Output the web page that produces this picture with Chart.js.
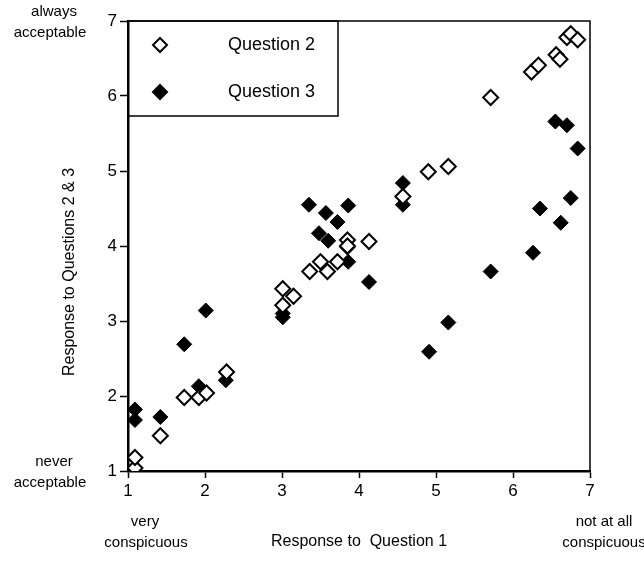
<!DOCTYPE html>
<html>
<head>
<meta charset="utf-8">
<script src="https://cdn.jsdelivr.net/npm/chart.js@4/dist/chart.umd.min.js"></script>
<style>
  body { margin: 0; background: #fff; }
  #wrap { width: 644px; height: 564px; }
</style>
</head>
<body>
<div id="wrap"><canvas id="chart" width="644" height="564"></canvas></div>
<script>
// Question 2 (open diamonds)
const q2X = [1.09, 1.09, 1.42, 1.73, 1.92, 2.02, 2.28, 3.01, 3.01, 3.15, 3.36, 3.50, 3.59, 3.72,
             3.85, 3.85, 4.13, 4.57, 4.90, 5.16, 5.71, 6.24, 6.33, 6.56, 6.61, 6.70, 6.75, 6.84];
const q2Y = [1.04, 1.18, 1.47, 1.98, 1.98, 2.04, 2.32, 3.43, 3.21, 3.33, 3.66, 3.79, 3.66, 3.79,
             4.08, 4.00, 4.06, 4.66, 4.99, 5.06, 5.98, 6.32, 6.41, 6.55, 6.49, 6.78, 6.83, 6.75];

// Question 3 (filled diamonds)
const q3X = [1.09, 1.09, 1.42, 1.73, 1.92, 2.01, 2.27, 3.01, 3.01, 3.35, 3.48, 3.60, 3.57, 3.72,
             3.86, 3.85, 3.86, 4.13, 4.57, 4.57, 4.91, 5.16, 5.71, 6.26, 6.35, 6.55, 6.62, 6.70,
             6.75, 6.84];
const q3Y = [1.82, 1.68, 1.72, 2.69, 2.13, 3.14, 2.21, 3.10, 3.05, 4.55, 4.17, 4.07, 4.44, 4.32,
             4.54, 3.98, 3.79, 3.52, 4.84, 4.55, 2.59, 2.98, 3.66, 3.91, 4.50, 5.66, 4.31, 5.61,
             4.64, 5.30];

const seriesNames = ["Question 2", "Question 3"];
const xTicks = [1, 2, 3, 4, 5, 6, 7];
const yTicks = [1, 2, 3, 4, 5, 6, 7];
const yTitle = "Response to Questions 2 & 3";

const FONT = "'Liberation Sans', Arial, Helvetica, sans-serif";

function pts(xs, ys) {
    return xs.map((x, i) => ({ x: x, y: ys[i] }));
}

// frame, legend box, y title and end-of-scale captions
const extras = {
    id: "extras",
    afterDatasetsDraw(chart) {
        const { ctx, chartArea: a, scales } = chart;
        ctx.save();

        // top + right frame
        ctx.strokeStyle = "#000";
        ctx.lineWidth = 1.5;
        ctx.beginPath();
        ctx.moveTo(a.left, a.top);
        ctx.lineTo(a.right, a.top);
        ctx.lineTo(a.right, a.bottom);
        ctx.stroke();

        // legend box (no fill, so the axis line stays visible)
        const lx = a.left, ly = a.top, lw = 210, lh = 95;
        ctx.lineWidth = 1.5;
        ctx.strokeRect(lx, ly, lw, lh);

        const rows = [ly + 24, ly + 71];
        rows.forEach((ry, i) => {
            const cx = lx + 32, r = 7;
            ctx.beginPath();
            ctx.moveTo(cx, ry - r);
            ctx.lineTo(cx + r, ry);
            ctx.lineTo(cx, ry + r);
            ctx.lineTo(cx - r, ry);
            ctx.closePath();
            ctx.fillStyle = i === 0 ? "#fff" : "#000";
            ctx.fill();
            ctx.lineWidth = 2;
            ctx.strokeStyle = "#000";
            ctx.stroke();

            ctx.fillStyle = "#000";
            ctx.font = "18px " + FONT;
            ctx.textAlign = "left";
            ctx.textBaseline = "middle";
            ctx.fillText(seriesNames[i], lx + 100, ry);
        });

        // y axis title (sits a bit below the middle in the original)
        ctx.font = "16px " + FONT;
        ctx.fillStyle = "#000";
        ctx.textAlign = "center";
        ctx.textBaseline = "middle";
        ctx.save();
        ctx.translate(70, 272);
        ctx.rotate(-Math.PI / 2);
        ctx.fillText(yTitle, 0, 0);
        ctx.restore();

        // captions at the ends of the scales
        ctx.font = "15px " + FONT;
        const y7 = scales.y.getPixelForValue(7);
        const y1 = scales.y.getPixelForValue(1);
        ctx.fillText("always", 54, y7 - 9);
        ctx.fillText("acceptable", 50, y7 + 12);
        ctx.fillText("never", 54, y1 - 9);
        ctx.fillText("acceptable", 50, y1 + 12);

        const x1 = scales.x.getPixelForValue(1);
        const x7 = scales.x.getPixelForValue(7);
        ctx.fillText("very", x1 + 17, 522);
        ctx.fillText("conspicuous", x1 + 18, 543);
        ctx.fillText("not at all", x7 + 14, 522);
        ctx.fillText("conspicuous", x7 + 14, 543);

        ctx.restore();
    }
};

new Chart(document.getElementById("chart"), {
    type: "scatter",
    data: {
        datasets: [
            {
                label: seriesNames[0],
                data: pts(q2X, q2Y),
                pointStyle: "rectRot",
                pointRadius: 7.5,
                pointBorderWidth: 2,
                pointBackgroundColor: "#fff",
                pointBorderColor: "#000"
            },
            {
                label: seriesNames[1],
                data: pts(q3X, q3Y),
                pointStyle: "rectRot",
                pointRadius: 7.5,
                pointBorderWidth: 1,
                pointBackgroundColor: "#000",
                pointBorderColor: "#000"
            }
        ]
    },
    options: {
        responsive: false,
        animation: false,
        layout: { padding: { top: 21, right: 54, left: 0, bottom: 0 } },
        plugins: {
            legend: { display: false },
            tooltip: { enabled: false }
        },
        scales: {
            x: {
                type: "linear",
                min: 1,
                max: 7,
                afterFit: s => { s.height = 93; },
                afterBuildTicks: s => { s.ticks = xTicks.map(v => ({ value: v })); },
                grid: { drawOnChartArea: false, drawTicks: true, tickLength: 7, tickColor: "#000", tickWidth: 1.5 },
                border: { display: true, color: "#000", width: 2.5 },
                ticks: { color: "#000", font: { family: FONT, size: 17 }, padding: 3 },
                title: {
                    display: true,
                    text: "Response to  Question 1",
                    color: "#000",
                    font: { family: FONT, size: 16 },
                    padding: { top: 0, bottom: 13 }
                }
            },
            y: {
                type: "linear",
                min: 1,
                max: 7,
                afterFit: s => { s.width = 128; },
                afterBuildTicks: s => { s.ticks = yTicks.map(v => ({ value: v })); },
                grid: { drawOnChartArea: false, drawTicks: true, tickLength: 8, tickColor: "#000", tickWidth: 1.5 },
                border: { display: true, color: "#000", width: 2.5 },
                ticks: { color: "#000", font: { family: FONT, size: 17 }, padding: 3 },
                title: { display: false }
            }
        }
    },
    plugins: [extras]
});
</script>
</body>
</html>
